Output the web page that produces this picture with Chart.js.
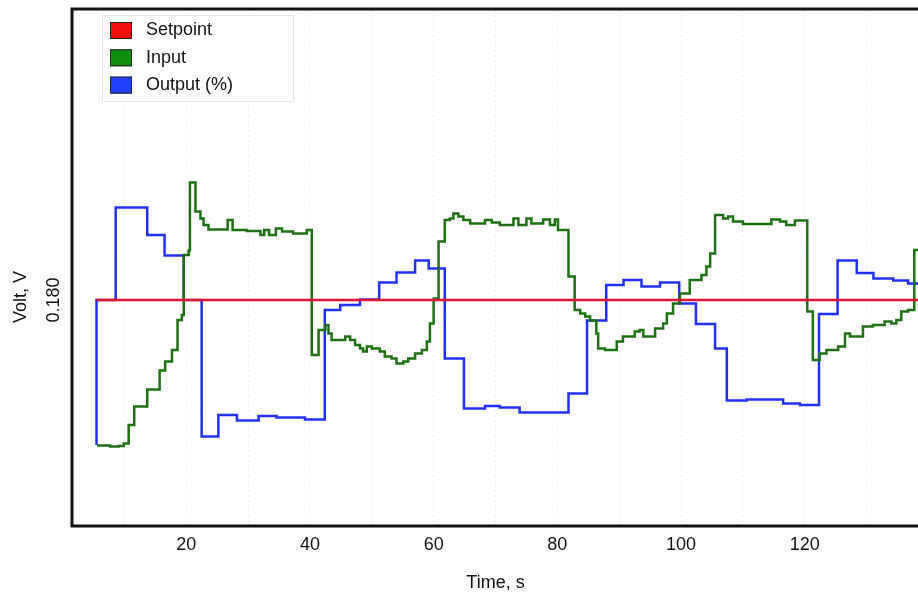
<!DOCTYPE html>
<html>
<head>
<meta charset="utf-8">
<script src="https://cdn.jsdelivr.net/npm/chart.js@4"></script>
<style>
  body { margin: 0; background: #fff; }
  #wrap { width: 918px; height: 595px; }
</style>
</head>
<body>
<div id="wrap"><canvas id="chart"></canvas></div>
<script>
// tick labels
const timeTicks = [20, 40, 60, 80, 100, 120];
const voltTicks = [0.180];

// Setpoint
const setpointTime = [5.5, 138.3];
const setpointVolt = [0.180, 0.180];

// Output (%) - values hold until the next time
const outputTime = [5.5, 5.5, 8.6, 13.7, 16.5, 19.6, 22.5, 25.2, 28.2, 31.7, 34.6, 39.2, 42.4, 44.9, 48.1,
    51.2, 54.0, 57.0, 59.2, 61.8, 64.9, 68.3, 70.7, 73.9, 81.8, 84.8, 87.9, 90.7, 93.6, 96.6, 99.7,
    102.4, 105.5, 107.4, 110.6, 116.5, 119.2, 122.3, 125.3, 128.4, 131.1, 134.3, 136.7, 138.3];
const outputVolt = [0.151, 0.180, 0.1985, 0.193, 0.1889, 0.180, 0.1527, 0.157, 0.1559, 0.1568, 0.1565, 0.1561, 0.178, 0.179, 0.1801,
    0.1835, 0.1855, 0.1879, 0.1863, 0.1683, 0.1583, 0.1588, 0.1585, 0.1575, 0.1613, 0.1759, 0.183, 0.184, 0.1827, 0.1835, 0.1793,
    0.1752, 0.1703, 0.1599, 0.1601, 0.1593, 0.159, 0.1772, 0.1879, 0.1854, 0.1843, 0.1839, 0.1833, 0.1833];

// Input
const inputTime = [5.6, 7.7, 9.1, 9.9, 10.7, 11.6, 13.7, 15.7, 16.6, 17.7, 18.6, 19.3, 19.6, 20.4, 20.6,
    21.5, 22.3, 22.8, 23.6, 26.7, 27.5, 29.8, 32.0, 32.6, 33.4, 34.5, 35.5, 37.3, 39.5, 40.3,
    41.4, 42.5, 43.0, 43.5, 45.7, 46.5, 47.3, 48.1, 48.6, 49.2, 50.0, 51.3, 52.1, 53.2, 54.0,
    55.1, 55.9, 57.0, 58.1, 58.9, 59.4, 60.0, 60.8, 61.8, 62.6, 63.2, 64.0, 64.8, 65.9, 68.3,
    69.4, 70.7, 72.9, 73.7, 75.0, 75.8, 77.7, 78.8, 79.6, 80.1, 81.8, 82.8, 83.7, 84.5, 85.3,
    86.3, 86.6, 87.7, 89.6, 90.6, 92.5, 93.3, 93.9, 95.8, 97.1, 97.7, 98.7, 99.8, 101.4, 103.3,
    104.1, 104.7, 105.5, 106.8, 107.6, 108.4, 110.0, 114.6, 116.0, 117.0, 118.4, 120.4, 121.3, 122.4, 123.5,
    125.4, 126.5, 127.3, 129.4, 131.0, 132.9, 134.0, 134.8, 135.6, 136.7, 137.7, 138.3];
const inputVolt = [0.1509, 0.1507, 0.1508, 0.1513, 0.155, 0.1587, 0.1621, 0.1659, 0.1677, 0.170, 0.176, 0.177, 0.189, 0.1899, 0.2035,
    0.1977, 0.1963, 0.195, 0.1941, 0.196, 0.194, 0.1938, 0.193, 0.194, 0.193, 0.1943, 0.1937, 0.1933, 0.194, 0.169,
    0.174, 0.175, 0.1733, 0.172, 0.1727, 0.172, 0.171, 0.1703, 0.1697, 0.1707, 0.1703, 0.1697, 0.1687, 0.1683, 0.1673,
    0.1677, 0.1683, 0.1693, 0.170, 0.1717, 0.1753, 0.1803, 0.1917, 0.196, 0.1963, 0.1973, 0.1967, 0.196, 0.1953, 0.196,
    0.1955, 0.195, 0.1963, 0.195, 0.1963, 0.1953, 0.1961, 0.195, 0.1961, 0.194, 0.1847, 0.178, 0.1773, 0.1767, 0.1759,
    0.1733, 0.1703, 0.170, 0.1717, 0.1727, 0.1737, 0.174, 0.1727, 0.1743, 0.1753, 0.1773, 0.1793, 0.1813, 0.184, 0.185,
    0.1867, 0.1893, 0.197, 0.1963, 0.1967, 0.1957, 0.1952, 0.1961, 0.1957, 0.195, 0.1959, 0.1777, 0.168, 0.1693, 0.170,
    0.1707, 0.1733, 0.1727, 0.1747, 0.175, 0.1757, 0.1753, 0.176, 0.1777, 0.178, 0.190, 0.190];

const FONT = '"Liberation Sans", Arial, sans-serif';

function points(xs, ys) {
    return xs.map((x, i) => ({x: x, y: ys[i]}));
}

// frame, legend box, axis titles and the rotated y tick
const decorations = {
    id: 'decorations',
    afterDatasetsDraw(chart) {
        const ctx = chart.ctx;
        const area = chart.chartArea;
        const yScale = chart.scales.y;
        ctx.save();

        // frame (left, top, bottom; right side is cut off)
        ctx.strokeStyle = '#111';
        ctx.lineWidth = 3;
        ctx.beginPath();
        ctx.moveTo(chart.width, area.top - 1);
        ctx.lineTo(area.left - 1, area.top - 1);
        ctx.lineTo(area.left - 1, area.bottom + 1);
        ctx.lineTo(chart.width, area.bottom + 1);
        ctx.stroke();

        // legend
        ctx.fillStyle = '#fff';
        ctx.fillRect(102, 15, 191, 86);
        ctx.strokeStyle = '#e4e4e4';
        ctx.lineWidth = 1;
        ctx.strokeRect(102.5, 15.5, 191, 86);
        ctx.font = '18px ' + FONT;
        ctx.textBaseline = 'middle';
        ctx.textAlign = 'left';
        chart.data.datasets.forEach((ds, i) => {
            const yc = 30.5 + i * 27.3;
            ctx.fillStyle = ds.swatch;
            ctx.fillRect(110, yc - 8.5, 22, 17);
            ctx.strokeStyle = '#222';
            ctx.strokeRect(110.5, yc - 8, 21, 16);
            ctx.fillStyle = '#111';
            ctx.fillText(ds.label, 146, yc);
        });

        // x title
        ctx.fillStyle = '#111';
        ctx.textAlign = 'center';
        ctx.font = '18px ' + FONT;
        ctx.fillText('Time, s', (area.left + area.right) / 2, 583);

        // y title and tick, rotated
        ctx.translate(21, yScale.getPixelForValue(voltTicks[0]) - 3);
        ctx.rotate(-Math.PI / 2);
        ctx.fillText('Volt, V', 0, 0);
        ctx.restore();

        ctx.save();
        ctx.fillStyle = '#111';
        ctx.font = '18px ' + FONT;
        ctx.textAlign = 'center';
        ctx.textBaseline = 'middle';
        for (const v of voltTicks) {
            ctx.save();
            ctx.translate(54, yScale.getPixelForValue(v));
            ctx.rotate(-Math.PI / 2);
            ctx.fillText(v.toFixed(3), 0, 0);
            ctx.restore();
        }
        ctx.restore();
    }
};

new Chart(document.getElementById('chart'), {
    type: 'line',
    data: {
        datasets: [{
            label: 'Setpoint',
            data: points(setpointTime, setpointVolt),
            borderColor: '#e01433',
            swatch: '#f01010',
            borderWidth: 2.5
        }, {
            label: 'Input',
            data: points(inputTime, inputVolt),
            borderColor: '#1d7012',
            swatch: '#108c10',
            borderWidth: 2.5,
            stepped: true
        }, {
            label: 'Output (%)',
            data: points(outputTime, outputVolt),
            borderColor: '#1f30f0',
            swatch: '#2040ff',
            borderWidth: 2.5,
            stepped: true
        }]
    },
    options: {
        responsive: true,
        maintainAspectRatio: false,
        devicePixelRatio: 1,
        animation: false,
        layout: { padding: { top: 10, right: 0, left: 0, bottom: 0 } },
        elements: { point: { radius: 0 }, line: { tension: 0 } },
        plugins: {
            legend: { display: false },
            tooltip: { enabled: false }
        },
        scales: {
            x: {
                type: 'linear',
                min: 1.7,
                max: 138.3,
                afterFit: (scale) => { scale.height = 70; },
                grid: {
                    color: 'rgba(0,0,0,0.08)',
                    lineWidth: 1,
                    drawTicks: false
                },
                border: { display: false, dash: [2, 3] },
                ticks: {
                    stepSize: 10,
                    autoSkip: false,
                    includeBounds: false,
                    maxRotation: 0,
                    padding: 9,
                    color: '#111',
                    font: { family: FONT, size: 18 },
                    callback: (val) => timeTicks.includes(val) ? String(val) : ''
                }
            },
            y: {
                min: 0.135,
                max: 0.238,
                afterFit: (scale) => { scale.width = 73; },
                grid: { display: false },
                border: { display: false },
                ticks: { display: false }
            }
        }
    },
    plugins: [decorations]
});
</script>
</body>
</html>
